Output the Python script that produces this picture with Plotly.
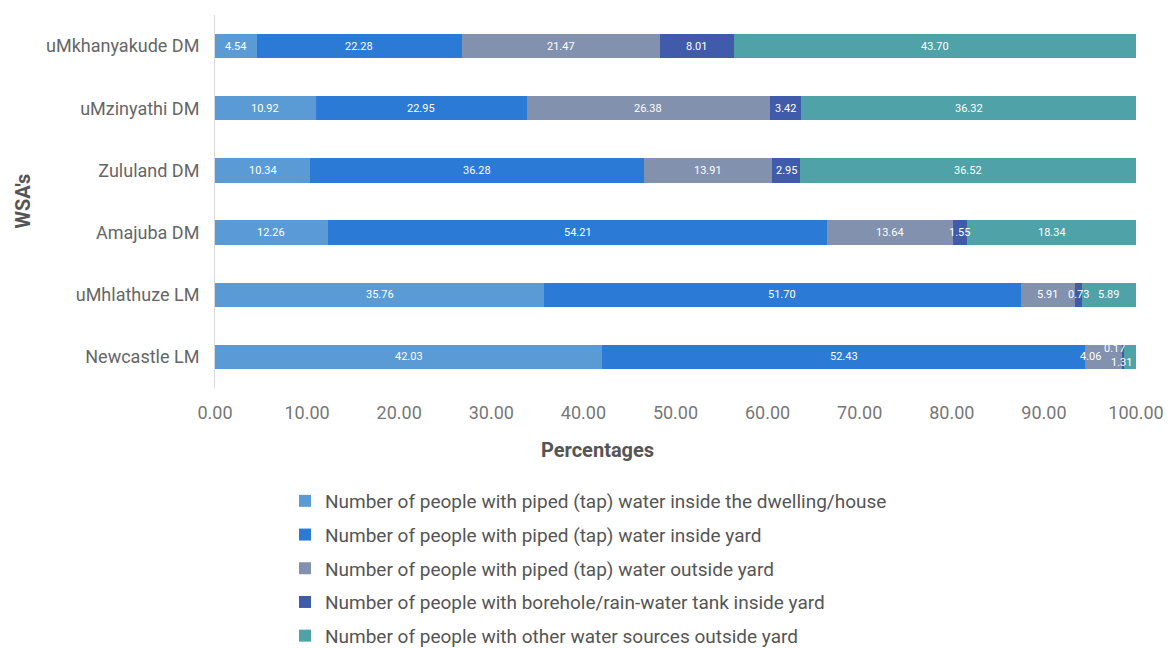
import plotly.graph_objects as go

# Water service authorities (bottom to top on the chart)
wsas = ["Newcastle LM", "uMhlathuze LM", "Amajuba DM", "Zululand DM", "uMzinyathi DM", "uMkhanyakude DM"]

series_names = [
    "Number of people with piped (tap) water inside the dwelling/house",
    "Number of people with piped (tap) water inside yard",
    "Number of people with piped (tap) water outside yard",
    "Number of people with borehole/rain-water tank inside yard",
    "Number of people with other water sources outside yard",
]

inside_dwelling = [42.03, 35.76, 12.26, 10.34, 10.92, 4.54]
inside_yard = [52.43, 51.70, 54.21, 36.28, 22.95, 22.28]
outside_yard = [4.06, 5.91, 13.64, 13.91, 26.38, 21.47]
borehole_tank = [0.17, 0.73, 1.55, 2.95, 3.42, 8.01]
other_sources = [1.31, 5.89, 18.34, 36.52, 36.32, 43.70]

x_ticks = [0, 10, 20, 30, 40, 50, 60, 70, 80, 90, 100]

series_values = [inside_dwelling, inside_yard, outside_yard, borehole_tank, other_sources]
colors = ["#5b9bd5", "#2b7ad6", "#8291ae", "#3f5ba9", "#4fa2a7"]

FONT = "Roboto"

fig = go.Figure()
for i, (name, vals, col) in enumerate(zip(series_names, series_values, colors)):
    fig.add_trace(go.Bar(
        y=wsas, x=vals, name=name, orientation="h",
        marker=dict(color=col, line=dict(width=0)),
        legendgroup=f"g{i}", textposition="none",
    ))

# Value labels centred in each segment (a few thin segments nudged apart)
label_nudge = {(0, 3): (-9, 8), (0, 4): (-8, -6), (0, 2): (-13, 0)}
annotations = []
for row, wsa in enumerate(wsas):
    left = 0.0
    for s, vals in enumerate(series_values):
        v = vals[row]
        dx, dy = label_nudge.get((row, s), (0, 0))
        annotations.append(dict(
            x=left + v / 2, y=wsa, xref="x", yref="y",
            text=f"{v:.2f}", showarrow=False,
            font=dict(family=FONT, size=11, color="white"),
            xshift=dx, yshift=dy,
        ))
        left += v

# Axis titles
annotations.append(dict(
    x=0.415, y=-0.165, xref="paper", yref="paper", xanchor="center", yanchor="middle",
    text="<b>Percentages</b>", showarrow=False,
    font=dict(family=FONT, size=20, color="#555555"),
))
annotations.append(dict(
    x=-0.2095, y=0.5, xref="paper", yref="paper", xanchor="center", yanchor="middle",
    text="<b>WSA's</b>", showarrow=False, textangle=-90,
    font=dict(family=FONT, size=20, color="#555555"),
))

fig.update_layout(
    width=1173, height=648,
    margin=dict(l=215, r=37, t=15, b=260),
    paper_bgcolor="white", plot_bgcolor="white",
    barmode="stack", bargap=0.61,
    showlegend=True,
    legend=dict(
        x=0.076, xanchor="left", xref="paper",
        y=1 - 482 / 648, yanchor="top", yref="container",
        orientation="v", traceorder="grouped", tracegroupgap=6,
        font=dict(family=FONT, size=19, color="#555555"),
        bgcolor="rgba(0,0,0,0)",
    ),
    annotations=annotations,
    xaxis=dict(
        range=[0, 100], tickvals=x_ticks, tickformat=".2f", automargin=False,
        showgrid=False, zeroline=False, showline=False,
        ticks="outside", ticklen=8, tickcolor="rgba(0,0,0,0)",
        tickfont=dict(family=FONT, size=18, color="#777777"),
    ),
    yaxis=dict(
        automargin=False,
        showgrid=False, zeroline=False,
        showline=True, linecolor="#d9d9d9", linewidth=1,
        ticks="outside", ticklen=11, tickcolor="rgba(0,0,0,0)",
        tickfont=dict(family=FONT, size=18, color="#666666"),
    ),
)

fig.write_html("out.html")
